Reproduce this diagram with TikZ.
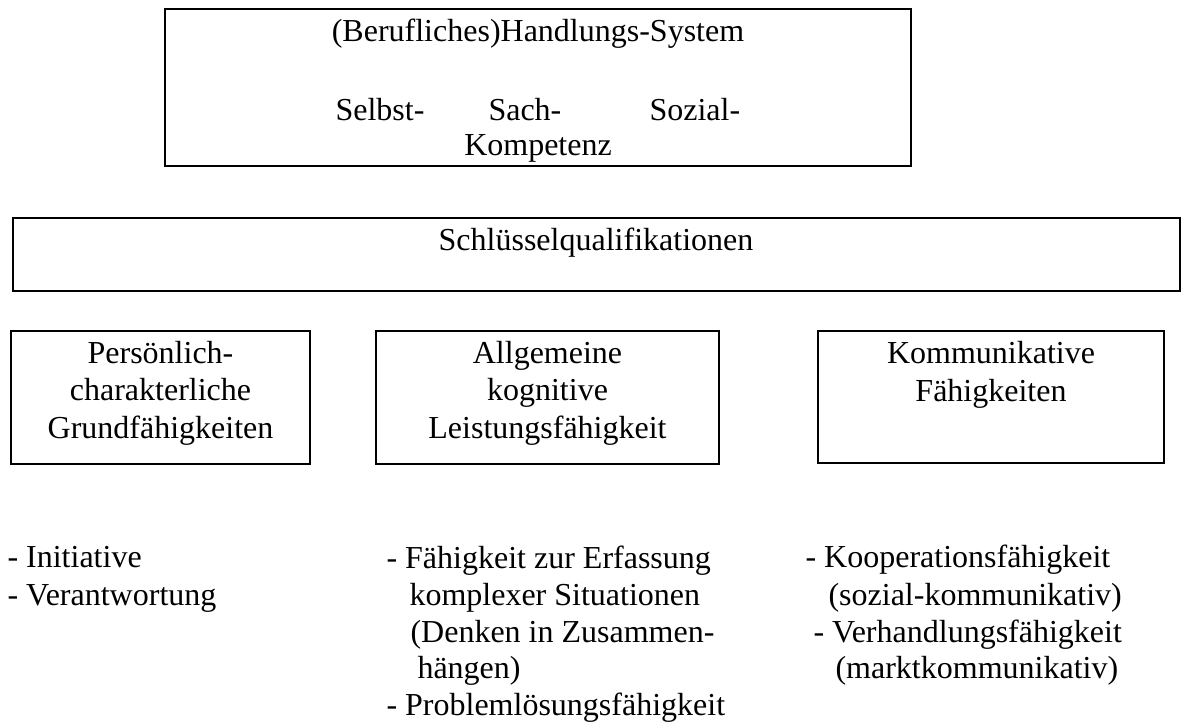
\documentclass[tikz,border=0pt]{standalone}
\usepackage{fontspec}
\setmainfont{Liberation Serif}
\begin{document}
\begin{tikzpicture}[x=0.375pt, y=-0.375pt,
    every node/.style={font=\fontsize{12pt}{14pt}\selectfont, inner sep=0pt},
    frame/.style={draw, line width=0.75pt},
    boxtext/.style={anchor=base, align=center},
    listline/.style={anchor=base west}]

    % Page size
    \useasboundingbox (0,0) rectangle (1184,725);

    % Define the box corners
    \coordinate (SysNW) at (165,9);     \coordinate (SysSE) at (911,166);
    \coordinate (SqNW) at (13,218);     \coordinate (SqSE) at (1180,291);
    \coordinate (PersNW) at (11,331);   \coordinate (PersSE) at (310,464);
    \coordinate (KognNW) at (376,331);  \coordinate (KognSE) at (719,464);
    \coordinate (KommNW) at (818,331);  \coordinate (KommSE) at (1164,463);

    % Draw boxes
    \draw[frame] (SysNW) rectangle (SysSE);
    \draw[frame] (SqNW) rectangle (SqSE);
    \draw[frame] (PersNW) rectangle (PersSE);
    \draw[frame] (KognNW) rectangle (KognSE);
    \draw[frame] (KommNW) rectangle (KommSE);

    % Handlungs-System
    \node[boxtext] (system) at (538,41) {(Berufliches)Handlungs-System};
    \node[listline] (selbst) at (335,120) {Selbst-};
    \node[listline] (sach) at (488,120) {Sach-};
    \node[listline] (sozial) at (649,120) {Sozial-};
    \node[boxtext] (kompetenz) at (538,155) {Kompetenz};

    % Schluesselqualifikationen
    \node[boxtext] (sq) at (596,250) {Schlüsselqualifikationen};

    % Three groups (base = last line)
    \node[boxtext] (pers) at (160.5,438) {Persönlich-\\charakterliche\\Grundfähigkeiten};
    \node[boxtext] (kogn) at (547.5,438) {Allgemeine\\kognitive\\Leistungsfähigkeit};
    \node[boxtext] (komm) at (991,401) {Kommunikative\\Fähigkeiten};

    % Lists
    \node[listline] (init) at (7,567) {- Initiative};
    \node[listline] (verant) at (7,605) {- Verantwortung};

    \node[listline] (erfass) at (386,568) {- Fähigkeit zur Erfassung};
    \node[listline] (komplex) at (409,605) {komplexer Situationen};
    \node[listline] (denken) at (410,642) {(Denken in Zusammen-};
    \node[listline] (haengen) at (417,678) {hängen)};
    \node[listline] (problem) at (386,715) {- Problemlösungsfähigkeit};

    \node[listline] (koop) at (805,567) {- Kooperationsfähigkeit};
    \node[listline] (sozkomm) at (828,605) {(sozial-kommunikativ)};
    \node[listline] (verhand) at (813,642) {- Verhandlungsfähigkeit};
    \node[listline] (markt) at (835,678) {(marktkommunikativ)};

\end{tikzpicture}
\end{document}
